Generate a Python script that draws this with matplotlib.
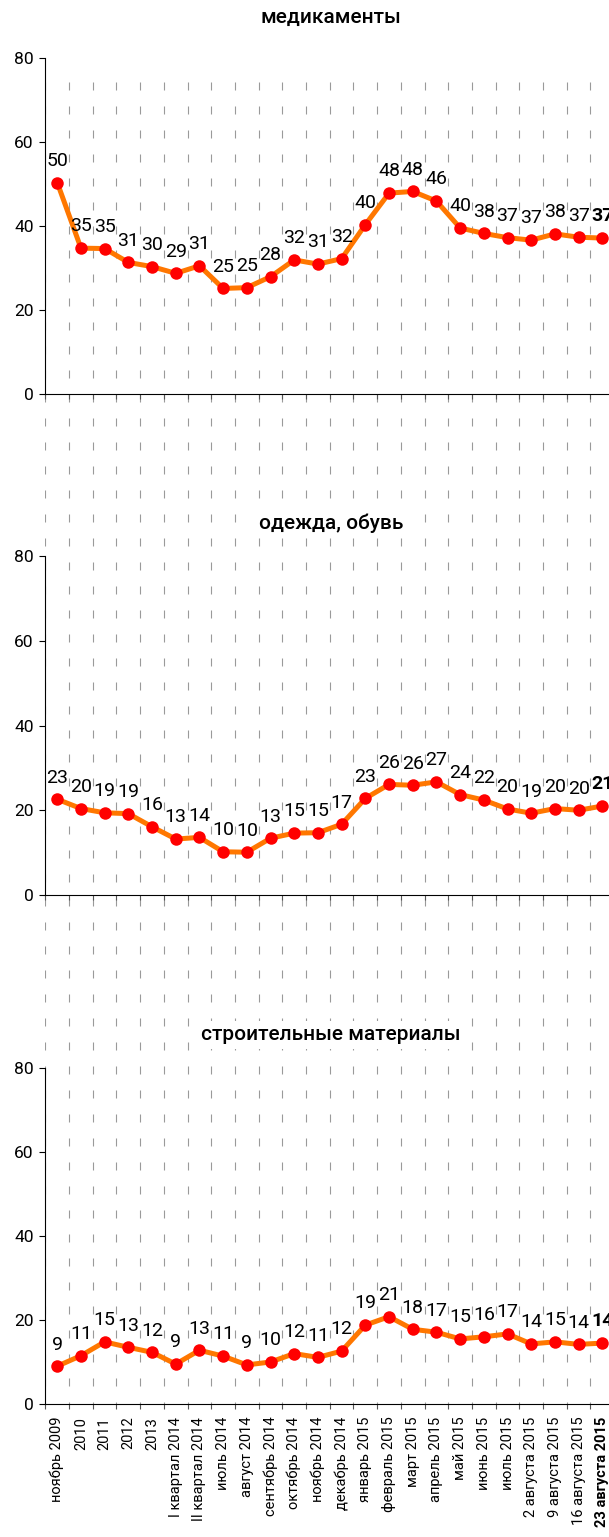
import matplotlib
matplotlib.use('Agg')
import matplotlib.pyplot as plt

plt.rcParams['font.family'] = ['Roboto', 'DejaVu Sans']
plt.rcParams['lines.scale_dashes'] = False

categories = ['ноябрь 2009', '2010', '2011', '2012', '2013', 'I квартал 2014',
              'II квартал 2014', 'июль 2014', 'август 2014', 'сентябрь 2014',
              'октябрь 2014', 'ноябрь 2014', 'декабрь 2014', 'январь 2015',
              'февраль 2015', 'март 2015', 'апрель 2015', 'май 2015', 'июнь 2015',
              'июль 2015', '2 августа 2015', '9 августа 2015', '16 августа 2015',
              '23 августа 2015']

medicines = [50.4, 34.8, 34.7, 31.4, 30.4, 28.8, 30.6, 25.2, 25.4, 28.0, 32.0, 31.0,
             32.3, 40.4, 47.9, 48.3, 46.0, 39.6, 38.3, 37.3, 36.7, 38.2, 37.4, 37.2]
clothes = [22.6, 20.4, 19.4, 19.2, 16.1, 13.2, 13.6, 10.2, 10.1, 13.4, 14.6, 14.7,
           16.7, 22.8, 26.1, 25.9, 26.7, 23.7, 22.4, 20.3, 19.3, 20.4, 20.0, 21.0]
materials = [8.9, 11.4, 14.7, 13.4, 12.2, 9.4, 12.7, 11.3, 9.2, 9.9, 11.9, 11.0,
             12.5, 18.7, 20.7, 17.7, 17.0, 15.4, 15.9, 16.6, 14.2, 14.7, 14.1, 14.4]

titles = ['медикаменты', 'одежда, обувь', 'строительные материалы']
y_ticks = [0, 20, 40, 60, 80]

W, H = 609, 1537
fig = plt.figure(figsize=(W / 100, H / 100), dpi=100)

n = len(categories)
left_px = 45.4
step_px = 23.7
axl = left_px / W
axw = step_px * n / W


def fy(px):
    return 1 - px / H


# (y of 0, y of 80, title y) in pixels from the top
panels = [(394.3, 58.3, 17), (895.0, 556.0, 523), (1403.5, 1068.0, 1035)]
series = [medicines, clothes, materials]

# background dashed vertical grid spanning all panels
bg = fig.add_axes([axl, fy(1403.5), axw, (1403.5 - 82) / H], zorder=0)
bg.set_xlim(-0.5, n - 0.5)
bg.set_ylim(0, 1)
bg.axis('off')
for k in range(n + 1):
    x = k - 0.5
    bg.plot([x, x], [1, 0], color='#9a9a9a', lw=0.8,
            linestyle=(0, (5.76, 11.52)), dash_capstyle='butt')

for i, (vals, title, (y0, y80, ty)) in enumerate(zip(series, titles, panels)):
    ax = fig.add_axes([axl, fy(y0), axw, (y0 - y80) / H], zorder=2)
    ax.patch.set_alpha(0)
    ax.set_xlim(-0.5, n - 0.5)
    ax.set_ylim(0, 80)
    xs = list(range(n))
    ax.plot(xs, vals, color='#ff7700', lw=3.6, zorder=3, solid_joinstyle='round')
    ax.plot(xs, vals, 'o', color='#ff0000', ms=9, mec='none', zorder=4)
    for j, v in enumerate(vals):
        ax.annotate(f'{v:.0f}', (j, v), xytext=(0, 12), textcoords='offset points',
                    ha='center', va='baseline', fontsize=14,
                    fontweight='bold' if j == n - 1 else 'normal',
                    annotation_clip=False, zorder=5)
    for s in ['top', 'right']:
        ax.spines[s].set_visible(False)
    for s in ['left', 'bottom']:
        ax.spines[s].set_color('black')
        ax.spines[s].set_linewidth(0.8)
    ax.set_yticks(y_ticks)
    ax.tick_params(axis='y', length=4.5, width=0.8, labelsize=12.5, pad=4)
    ax.set_xticks([k - 0.5 for k in range(n + 1)])
    ax.set_xticklabels([])
    ax.tick_params(axis='x', which='major', length=3.5, width=0.8, color='#555555')
    if i == 2:
        ax.set_xticks(xs, minor=True)
        ax.set_xticklabels(categories, minor=True, rotation=90, fontsize=10.5)
        ax.tick_params(axis='x', which='minor', length=0, pad=9.5)
        labs = ax.get_xticklabels(minor=True)
        labs[-1].set_fontweight('bold')
    fig.text(331 / W, fy(ty), title, ha='center', va='center', fontsize=15,
             fontweight='medium', zorder=6,
             bbox=dict(facecolor='white', edgecolor='none', pad=3))

fig.savefig('out.png', dpi=100)
